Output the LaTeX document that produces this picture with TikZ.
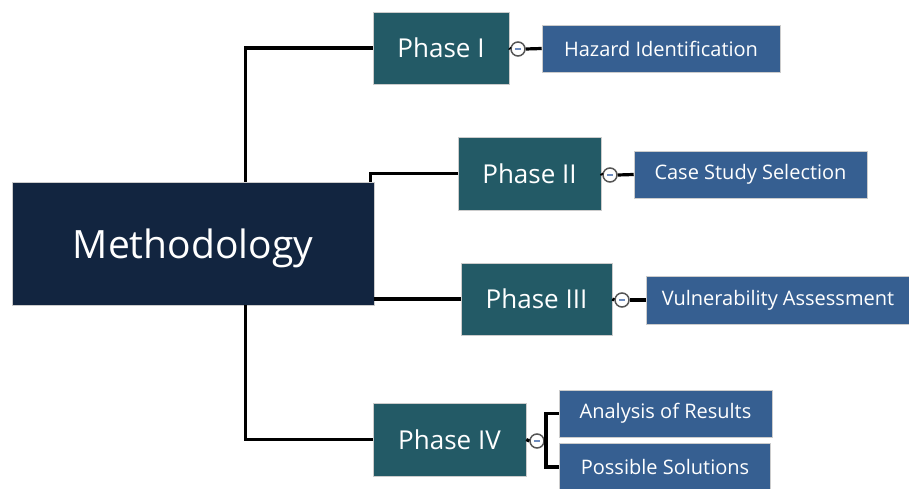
\documentclass[tikz,border=0pt]{standalone}
\usepackage{fontspec}
\setmainfont{Open Sans}
\usetikzlibrary{calc}
\definecolor{rootc}{RGB}{18,37,64}
\definecolor{phasec}{RGB}{35,90,102}
\definecolor{leafc}{RGB}{54,95,145}
\definecolor{knobc}{RGB}{85,85,85}
\definecolor{minusc}{RGB}{110,140,190}
\tikzset{
  box/.style={rectangle, inner sep=0pt, text=white, draw=white!80!black, line width=0.6pt},
  rootbox/.style={box, fill=rootc, font=\fontsize{39}{44}\selectfont, text depth=0pt, yshift=0pt},
  phasebox/.style={box, fill=phasec, font=\fontsize{26}{30}\selectfont},
  leafbox/.style={box, fill=leafc, font=\fontsize{20}{24}\selectfont},
  conn/.style={draw=black, line width=3.2pt},
  knob/.style={circle, draw=knobc, fill=white, line width=1.5pt, minimum size=14pt, inner sep=0pt,
    path picture={\draw[minusc, line width=1.3pt] ($(path picture bounding box.center)+(-3pt,0)$) -- ($(path picture bounding box.center)+(3pt,0)$);}}
}
\begin{document}
\begin{tikzpicture}[x=1pt,y=-1pt]
\useasboundingbox (0,0) rectangle (909,489);
% nodes
\node[rootbox, minimum width=362pt, minimum height=123pt] (root) at (193,243.5) {Methodology};
\node[phasebox, minimum width=136pt, minimum height=72pt] (ph1) at (441,48) {Phase I};
\node[phasebox, minimum width=143pt, minimum height=73pt] (ph2) at (529.5,173.5) {Phase II};
\node[phasebox, minimum width=151pt, minimum height=72pt] (ph3) at (536.5,299) {Phase III};
\node[phasebox, minimum width=153pt, minimum height=73pt] (ph4) at (449.5,439.5) {Phase IV};
\node[leafbox, minimum width=238pt, minimum height=47pt] (hz) at (661,48.5) {Hazard Identification};
\node[leafbox, minimum width=233pt, minimum height=47pt] (cs) at (750.5,174.5) {Case Study Selection};
\node[leafbox, minimum width=263pt, minimum height=48pt] (va) at (778,300) {Vulnerability Assessment};
\node[leafbox, minimum width=213pt, minimum height=47pt] (ar) at (665.5,413.5) {Analysis of Results};
\node[leafbox, minimum width=211pt, minimum height=48pt] (ps) at (665,467) {Possible Solutions};
% connectors from root
\draw[conn] ($(root.north west)+(234,0)$) |- (ph1.west);
\draw[conn] ($(root.north east)+(-4,0)$) |- (ph2.west);
\draw[conn] (root.east |- ph3.west) -- (ph3.west);
\draw[conn] ($(root.south west)+(234,0)$) |- (ph4.west);
% knobs
\node[knob] (k1) at (518,49) {};
\node[knob] (k2) at (610,175) {};
\node[knob] (k3) at (622,300) {};
\node[knob] (k4) at (537,441) {};
\coordinate (br) at (546,441);
\draw[conn] (ph1.east) -- (k1.west);
\draw[conn] (k1.east) -- (hz.west);
\draw[conn] (ph2.east) -- (k2.west);
\draw[conn] (k2.east) -- (cs.west);
\draw[conn] (ph3.east) -- (k3.west);
\draw[conn] (k3.east) -- (va.west);
\draw[conn] (ph4.east) -- (k4.west);
\draw[conn] (k4.east) -- (br);
\draw[conn] (ar.west) -| (br) |- (ps.west);
\end{tikzpicture}
\end{document}
